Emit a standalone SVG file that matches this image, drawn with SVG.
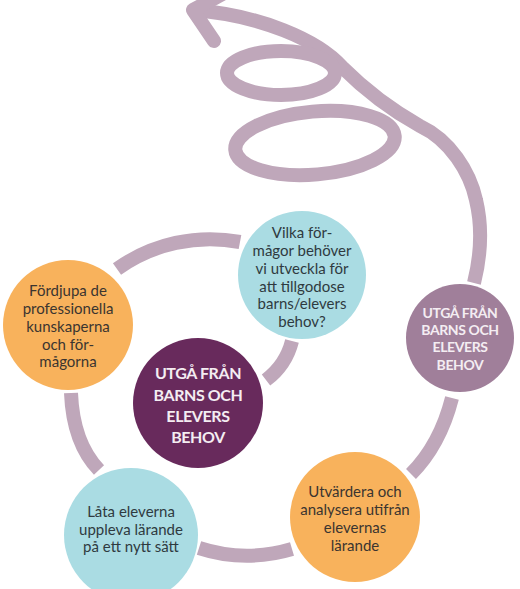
<svg xmlns="http://www.w3.org/2000/svg" width="520" height="589" viewBox="0 0 520 589">
<style>
.ln{fill:none;stroke:#bfa7ba;stroke-width:14}
.rd{stroke-linecap:round;stroke-linejoin:round}
.t{font-family:Lato,"Open Sans","Liberation Sans",sans-serif;font-size:15px;text-anchor:middle}
.dk{fill:#3b3530}
.cy{fill:#2f3a3f}
.cp{font-family:Lato,"Open Sans","Liberation Sans",sans-serif;font-weight:700;text-anchor:middle;fill:#f4edf2;letter-spacing:-0.4px}
.or{fill:#f8b25c}
.lb{fill:#aadce3}
</style>
<rect width="520" height="589" fill="#ffffff"/>
<g id="connectors">
  <path class="ln" d="M 240 242 A 160 160 0 0 0 117 269"/>
  <path class="ln" d="M 292 341 Q 286 365 266 380"/>
  <path class="ln" d="M 71 393 Q 73 443 99 470"/>
  <path class="ln" d="M 199 548 Q 245 563 292 549"/>
  <path class="ln" d="M 452 398 Q 440 445 411 474"/>
  <path class="ln" d="M 474 283 C 481 255 482 225 476 200 C 470 172 450 140 420 126 C 395 112 365 90 342 67 C 318 40 260 15 193 10"/>
  <ellipse class="ln" cx="281" cy="73" rx="54" ry="22"/>
  <ellipse class="ln" cx="315" cy="143" rx="80" ry="31.5" transform="rotate(-5 315 143)"/>
  <path class="ln rd" d="M 226 -8 L 193 10 L 214 41"/>
</g>
<g id="node-fordjupa">
  <circle class="or" cx="68" cy="325" r="65"/>
  <text class="t dk"><tspan x="68" y="296">Fördjupa de</tspan><tspan x="68" y="314">professionella</tspan><tspan x="68" y="332">kunskaperna</tspan><tspan x="68" y="350">och för-</tspan><tspan x="68" y="367">mågorna</tspan></text>
</g>
<g id="node-vilka">
  <circle class="lb" cx="302" cy="275" r="64"/>
  <text class="t cy"><tspan x="302" y="238">Vilka för-</tspan><tspan x="302" y="256">mågor behöver</tspan><tspan x="302" y="274">vi utveckla för</tspan><tspan x="302" y="292">att tillgodose</tspan><tspan x="302" y="309">barns/elevers</tspan><tspan x="302" y="327">behov?</tspan></text>
</g>
<g id="node-center">
  <circle cx="198" cy="403" r="65" fill="#682a5c"/>
  <text class="cp" font-size="16"><tspan x="198" y="379">UTGÅ FRÅN</tspan><tspan x="198" y="401">BARNS OCH</tspan><tspan x="198" y="422">ELEVERS</tspan><tspan x="198" y="443">BEHOV</tspan></text>
</g>
<g id="node-right">
  <circle cx="460" cy="338" r="54" fill="#a07f9a"/>
  <text class="cp" font-size="14"><tspan x="460" y="318">UTGÅ FRÅN</tspan><tspan x="460" y="335">BARNS OCH</tspan><tspan x="460" y="352">ELEVERS</tspan><tspan x="460" y="370">BEHOV</tspan></text>
</g>
<g id="node-lata">
  <circle class="lb" cx="131" cy="535" r="67"/>
  <text class="t cy"><tspan x="131" y="517">Låta eleverna</tspan><tspan x="131" y="535">uppleva lärande</tspan><tspan x="131" y="552">på ett nytt sätt</tspan></text>
</g>
<g id="node-utvardera">
  <circle class="or" cx="355" cy="517" r="65"/>
  <text class="t dk"><tspan x="355" y="497">Utvärdera och</tspan><tspan x="355" y="515">analysera utifrån</tspan><tspan x="355" y="533">elevernas</tspan><tspan x="355" y="551">lärande</tspan></text>
</g>
</svg>
